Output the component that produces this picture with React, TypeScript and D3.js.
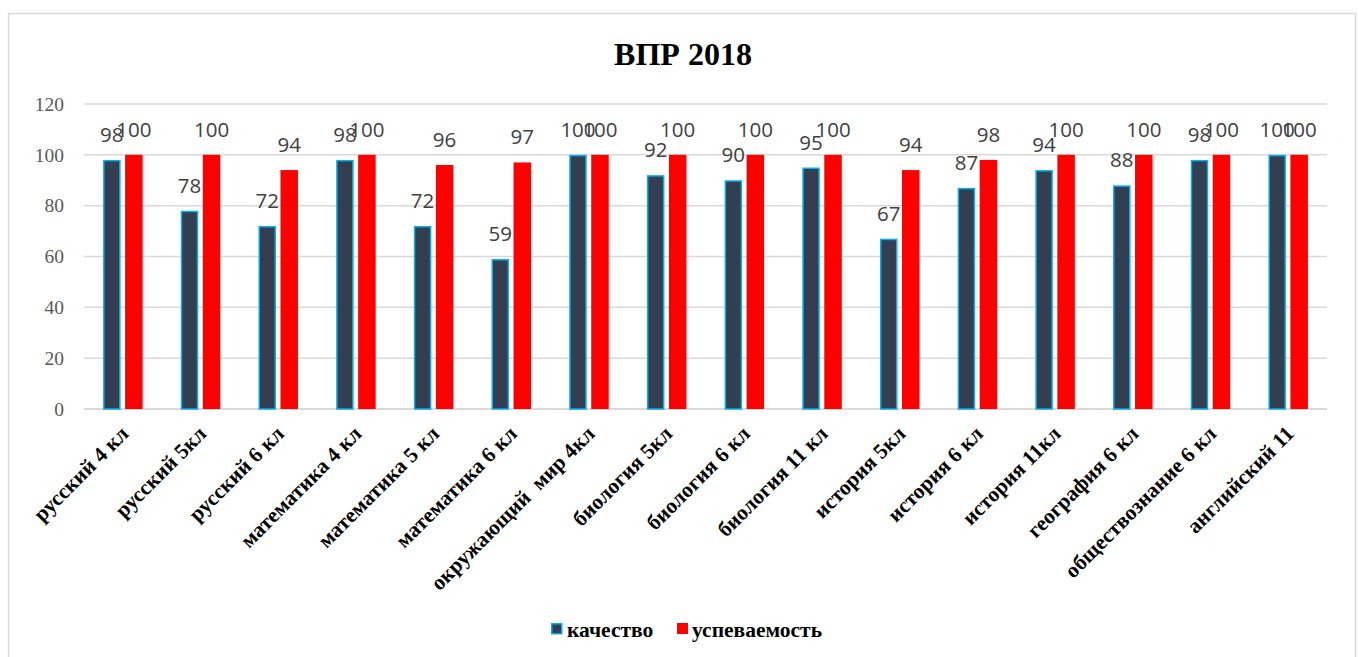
import React from "react";
import * as d3 from "d3";

const categories = [
  "русский 4 кл",
  "русский 5кл",
  "русский 6 кл",
  "математика 4 кл",
  "математика 5 кл",
  "математика 6 кл",
  "окружающий  мир 4кл",
  "биология 5кл",
  "биология 6 кл",
  "биология 11 кл",
  "история 5кл",
  "история 6 кл",
  "история 11кл",
  "география 6 кл",
  "обществознание 6 кл",
  "английский 11",
];
const quality = [98, 78, 72, 98, 72, 59, 100, 92, 90, 95, 67, 87, 94, 88, 98, 100];
const progress = [100, 100, 94, 100, 96, 97, 100, 100, 100, 100, 94, 98, 100, 100, 100, 100];
const yTicks = [0, 20, 40, 60, 80, 100, 120];
const seriesNames = ["качество", "успеваемость"];

const W = 1359;
const H = 657;
const left = 84;
const right = 1327;
const top = 104;
const bottom = 409;

export default function App() {
  const x = d3.scaleBand<string>().domain(categories).range([left, right]).padding(0);
  const y = d3.scaleLinear().domain([0, 120]).range([bottom, top]);
  const bw = 17.5;
  const gap = 4.5;
  const serif = "'Liberation Serif', 'Times New Roman', serif";
  const sans = "'Open Sans', 'Liberation Sans', sans-serif";

  return (
    <svg
      width={W}
      height={H}
      style={{ position: "absolute", left: 0, top: 0, background: "#fff" }}
    >
      <rect x={0} y={0} width={W} height={H} fill="#fff" />
      <rect x={8.5} y={13.5} width={1347} height={720} fill="#fff" stroke="#D9D9D9" strokeWidth={1.5} />
      <text x={683} y={65} textAnchor="middle" fontFamily={serif} fontWeight="bold" fontSize={32} fill="#000">
        ВПР 2018
      </text>
      {yTicks.map((t) => (
        <g key={t}>
          <line x1={left} x2={right} y1={y(t)} y2={y(t)} stroke="#D9D9D9" strokeWidth={t === 0 ? 2 : 1.5} />
          <text x={64} y={y(t)} dy="0.35em" textAnchor="end" fontFamily={serif} fontSize={19.5} fill="#595959">
            {t}
          </text>
        </g>
      ))}
      {categories.map((c, i) => {
        const cx = (x(c) as number) + x.bandwidth() / 2;
        const qx = cx - gap / 2 - bw;
        const px = cx + gap / 2;
        return (
          <g key={c}>
            <rect
              x={qx + 0.75}
              y={y(quality[i]) + 0.75}
              width={bw - 1.5}
              height={bottom - y(quality[i]) - 0.75}
              fill="#333F50"
              stroke="#00B0F0"
              strokeWidth={1.5}
            />
            <rect x={px} y={y(progress[i])} width={bw} height={bottom - y(progress[i])} fill="#FF0000" />
            <text x={qx + bw / 2} y={y(quality[i]) - 18} textAnchor="middle" fontFamily={sans} fontSize={20.5} fill="#404040">
              {quality[i]}
            </text>
            <text x={px + bw / 2} y={y(progress[i]) - 18} textAnchor="middle" fontFamily={sans} fontSize={20.5} fill="#404040">
              {progress[i]}
            </text>
            <text
              transform={`translate(${cx + 7},${bottom + 26}) rotate(-45)`}
              textAnchor="end"
              fontFamily={serif}
              fontWeight="bold"
              fontSize={21.5}
              fill="#000"
              style={{ whiteSpace: "pre" }}
            >
              {c}
            </text>
          </g>
        );
      })}
      <g>
        <rect x={551.75} y={623.75} width={10} height={10} fill="#333F50" stroke="#00B0F0" strokeWidth={1.5} />
        <text x={567} y={637} fontFamily={serif} fontWeight="bold" fontSize={21.5} fill="#000">
          {seriesNames[0]}
        </text>
        <rect x={677} y={623} width={11} height={11} fill="#FF0000" />
        <text x={692} y={637} fontFamily={serif} fontWeight="bold" fontSize={21.5} fill="#000">
          {seriesNames[1]}
        </text>
      </g>
    </svg>
  );
}
